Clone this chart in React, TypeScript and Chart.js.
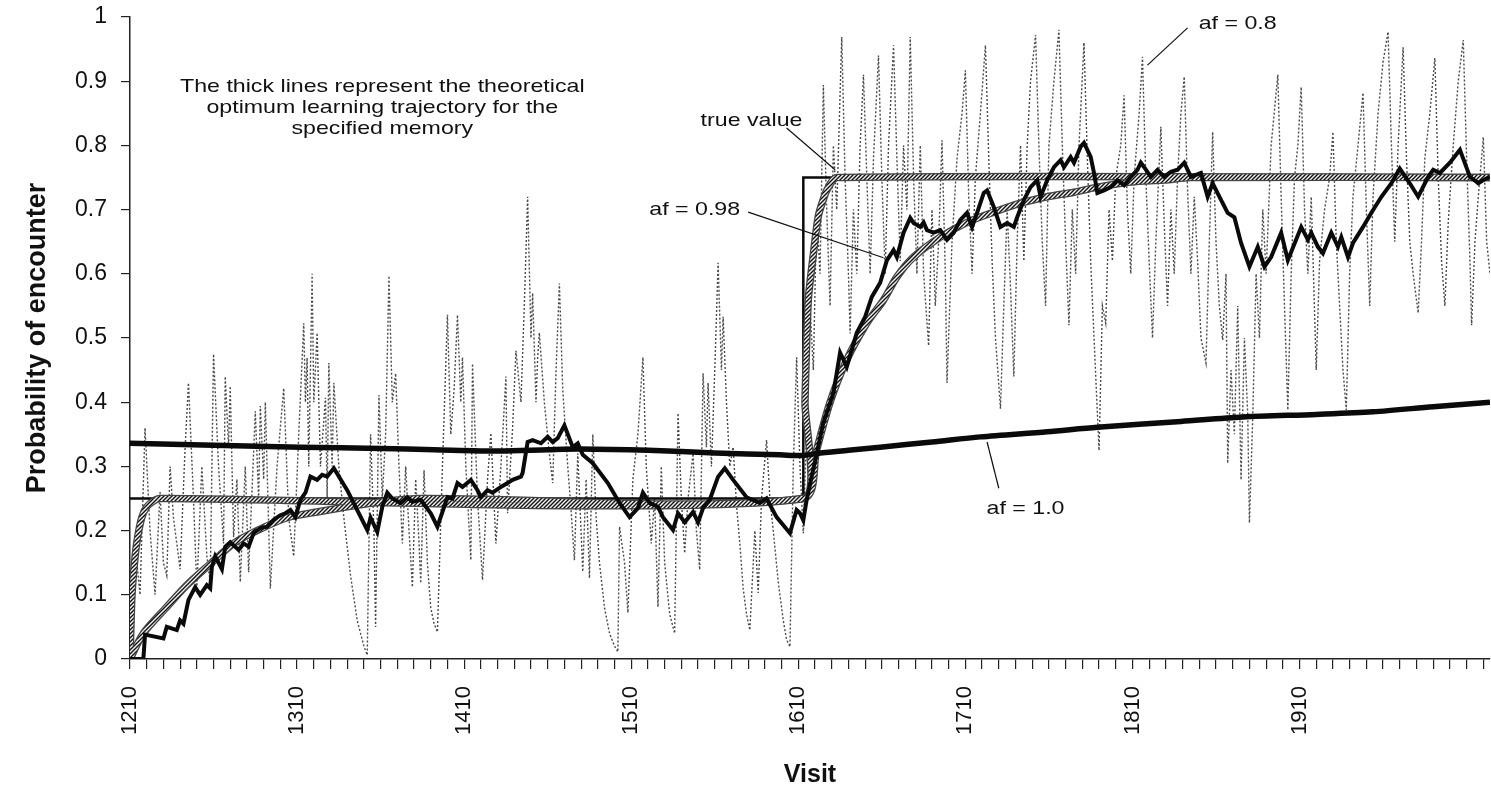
import React, { useEffect, useRef } from 'react';
import { Chart, registerables } from 'chart.js';

Chart.register(...registerables);

// ---------- axis ticks ----------
const xMin = 1210;
const xMax = 2024;
const xMajorTicks = [1210, 1310, 1410, 1510, 1610, 1710, 1810, 1910];
const xMinorStep = 10;
const yTicks = [0, 0.1, 0.2, 0.3, 0.4, 0.5, 0.6, 0.7, 0.8, 0.9, 1];

// ---------- series ----------
const trueVisits = [1210, 1613, 1613, 2024];
const trueValues = [0.25, 0.25, 0.75, 0.75];

// theoretical optimum, short memory (af = 0.8)
const optShortVisits = [1210, 1211, 1212, 1214, 1217, 1220, 1224, 1228, 1613, 1614, 1616, 1619, 1622, 1627, 1633, 2024];
const optShortValues = [0, 0.09, 0.13, 0.18, 0.22, 0.237, 0.246, 0.25, 0.25, 0.4, 0.56, 0.63, 0.69, 0.73, 0.75, 0.75];

// theoretical optimum, long memory (af = 0.98)
const optLongVisits = [1210, 1218, 1232, 1244, 1258, 1272, 1286, 1304, 1322, 1342, 1361, 1384, 1613, 1621, 1629, 1639, 1651, 1661, 1669, 1679, 1695, 1711, 1727, 1743, 1759, 1775, 1789, 1809, 1829, 1845, 2024];
const optLongValues = [0, 0.04, 0.081, 0.115, 0.148, 0.18, 0.2, 0.22, 0.229, 0.238, 0.245, 0.25, 0.25, 0.326, 0.4, 0.466, 0.523, 0.559, 0.595, 0.626, 0.657, 0.68, 0.696, 0.71, 0.72, 0.727, 0.735, 0.743, 0.746, 0.75, 0.75];

// estimate with af = 1.0
const af10Visits = [1210, 1260, 1312, 1360, 1392, 1431, 1460, 1479, 1520, 1560, 1599, 1613, 1621, 1640, 1659, 1690, 1719, 1759, 1789, 1839, 1876, 1920, 1954, 1990, 2024];
const af10Values = [0.336, 0.333, 0.33, 0.328, 0.326, 0.324, 0.326, 0.327, 0.325, 0.321, 0.318, 0.317, 0.32, 0.325, 0.33, 0.338, 0.346, 0.354, 0.361, 0.37, 0.377, 0.381, 0.385, 0.393, 0.4];

// estimate with af = 0.98
const af098Visits = [1210, 1218, 1219, 1230, 1232, 1238, 1240, 1242, 1245, 1249, 1252, 1256, 1258, 1259, 1261, 1265, 1267, 1270, 1275, 1278, 1281, 1284, 1288, 1292, 1296, 1300, 1303, 1306, 1309, 1312, 1315, 1318, 1322, 1325, 1328, 1332, 1340, 1346, 1352, 1354, 1358, 1361, 1364, 1367, 1372, 1376, 1379, 1384, 1390, 1394, 1400, 1403, 1406, 1409, 1414, 1418, 1420, 1424, 1427, 1432, 1436, 1439, 1444, 1445, 1448, 1451, 1456, 1460, 1463, 1466, 1470, 1475, 1478, 1481, 1487, 1496, 1503, 1509, 1514, 1517, 1521, 1526, 1529, 1535, 1538, 1542, 1547, 1550, 1553, 1557, 1562, 1566, 1571, 1579, 1587, 1591, 1597, 1605, 1609, 1611, 1613, 1615, 1621, 1625, 1631, 1635, 1639, 1645, 1650, 1654, 1659, 1663, 1667, 1669, 1673, 1677, 1679, 1683, 1685, 1687, 1691, 1695, 1699, 1703, 1707, 1711, 1714, 1717, 1721, 1723, 1727, 1731, 1735, 1739, 1741, 1745, 1749, 1753, 1755, 1759, 1763, 1767, 1769, 1773, 1775, 1779, 1781, 1785, 1787, 1789, 1793, 1797, 1801, 1805, 1809, 1813, 1815, 1817, 1821, 1825, 1829, 1833, 1837, 1841, 1845, 1851, 1855, 1858, 1863, 1867, 1871, 1875, 1880, 1885, 1889, 1893, 1899, 1903, 1911, 1915, 1917, 1921, 1924, 1929, 1933, 1935, 1939, 1942, 1948, 1953, 1959, 1965, 1970, 1976, 1981, 1987, 1990, 1994, 2000, 2006, 2012, 2017, 2020, 2024];
const af098Values = [0, 0, 0.038, 0.032, 0.05, 0.045, 0.06, 0.055, 0.092, 0.112, 0.1, 0.115, 0.11, 0.143, 0.16, 0.14, 0.175, 0.182, 0.17, 0.18, 0.175, 0.196, 0.204, 0.206, 0.217, 0.224, 0.227, 0.232, 0.221, 0.248, 0.259, 0.284, 0.279, 0.287, 0.284, 0.297, 0.263, 0.232, 0.201, 0.22, 0.198, 0.237, 0.259, 0.25, 0.243, 0.252, 0.245, 0.248, 0.227, 0.206, 0.252, 0.25, 0.274, 0.268, 0.279, 0.263, 0.252, 0.263, 0.259, 0.268, 0.274, 0.279, 0.284, 0.29, 0.338, 0.341, 0.336, 0.346, 0.338, 0.344, 0.364, 0.33, 0.336, 0.318, 0.305, 0.274, 0.243, 0.221, 0.235, 0.259, 0.243, 0.237, 0.221, 0.201, 0.227, 0.213, 0.229, 0.213, 0.235, 0.248, 0.284, 0.297, 0.279, 0.252, 0.243, 0.25, 0.221, 0.196, 0.232, 0.227, 0.216, 0.248, 0.32, 0.368, 0.414, 0.477, 0.455, 0.508, 0.533, 0.564, 0.586, 0.621, 0.637, 0.626, 0.664, 0.687, 0.679, 0.673, 0.68, 0.668, 0.664, 0.668, 0.653, 0.664, 0.684, 0.695, 0.673, 0.695, 0.726, 0.73, 0.704, 0.673, 0.679, 0.673, 0.688, 0.715, 0.735, 0.746, 0.72, 0.746, 0.766, 0.777, 0.766, 0.782, 0.773, 0.798, 0.804, 0.782, 0.757, 0.726, 0.73, 0.735, 0.746, 0.738, 0.751, 0.762, 0.773, 0.766, 0.751, 0.762, 0.751, 0.759, 0.762, 0.773, 0.751, 0.757, 0.72, 0.741, 0.715, 0.695, 0.688, 0.648, 0.611, 0.642, 0.611, 0.626, 0.664, 0.621, 0.673, 0.653, 0.664, 0.642, 0.632, 0.664, 0.642, 0.657, 0.626, 0.648, 0.673, 0.695, 0.72, 0.741, 0.764, 0.741, 0.72, 0.751, 0.762, 0.757, 0.773, 0.793, 0.751, 0.741, 0.746, 0.751];

// estimate with af = 0.8
const af08Visits = [1210, 1213, 1216, 1219, 1222, 1225, 1228, 1230, 1232, 1234, 1236, 1240, 1243, 1245, 1248, 1250, 1253, 1256, 1258, 1260, 1263, 1266, 1267, 1269, 1270, 1272, 1274, 1276, 1279, 1281, 1285, 1287, 1288, 1290, 1291, 1294, 1298, 1302, 1305, 1308, 1311, 1314, 1315, 1316, 1317, 1319, 1320, 1322, 1324, 1327, 1328, 1329, 1331, 1332, 1335, 1338, 1342, 1346, 1350, 1352, 1354, 1356, 1357, 1359, 1361, 1363, 1365, 1367, 1369, 1371, 1373, 1375, 1377, 1379, 1381, 1383, 1384, 1386, 1388, 1390, 1392, 1394, 1397, 1400, 1402, 1404, 1406, 1408, 1409, 1411, 1414, 1415, 1418, 1421, 1424, 1426, 1429, 1432, 1435, 1436, 1439, 1441, 1444, 1446, 1448, 1450, 1451, 1453, 1454, 1455, 1458, 1461, 1463, 1465, 1467, 1469, 1472, 1474, 1476, 1478, 1481, 1483, 1485, 1487, 1489, 1491, 1494, 1497, 1500, 1502, 1503, 1506, 1508, 1511, 1514, 1517, 1519, 1522, 1524, 1526, 1528, 1530, 1533, 1536, 1538, 1540, 1542, 1544, 1547, 1549, 1551, 1553, 1555, 1556, 1558, 1560, 1562, 1564, 1565, 1567, 1569, 1571, 1573, 1575, 1577, 1579, 1581, 1584, 1586, 1588, 1591, 1593, 1595, 1598, 1601, 1603, 1605, 1607, 1609, 1611, 1613, 1615, 1617, 1619, 1621, 1623, 1625, 1627, 1629, 1631, 1633, 1636, 1638, 1640, 1641, 1643, 1645, 1647, 1649, 1651, 1653, 1655, 1658, 1660, 1662, 1664, 1667, 1669, 1671, 1673, 1675, 1677, 1679, 1681, 1683, 1685, 1688, 1690, 1692, 1694, 1696, 1698, 1699, 1702, 1705, 1708, 1710, 1712, 1714, 1716, 1719, 1722, 1724, 1726, 1728, 1731, 1733, 1735, 1737, 1739, 1741, 1743, 1745, 1747, 1749, 1752, 1754, 1756, 1758, 1760, 1763, 1766, 1768, 1770, 1772, 1774, 1776, 1778, 1781, 1783, 1785, 1787, 1790, 1792, 1794, 1796, 1798, 1800, 1803, 1805, 1807, 1809, 1811, 1814, 1816, 1818, 1820, 1822, 1824, 1827, 1829, 1831, 1833, 1835, 1837, 1839, 1841, 1843, 1845, 1847, 1849, 1851, 1854, 1856, 1858, 1860, 1862, 1864, 1866, 1867, 1869, 1871, 1873, 1875, 1877, 1879, 1880, 1882, 1884, 1886, 1888, 1890, 1893, 1897, 1899, 1901, 1903, 1905, 1907, 1909, 1911, 1913, 1915, 1917, 1920, 1922, 1925, 1928, 1930, 1932, 1934, 1936, 1938, 1940, 1942, 1945, 1948, 1950, 1952, 1954, 1957, 1960, 1963, 1965, 1967, 1969, 1972, 1974, 1976, 1978, 1981, 1983, 1985, 1988, 1991, 1993, 1995, 1997, 1999, 2002, 2005, 2008, 2010, 2012, 2013, 2015, 2017, 2020, 2022, 2024];
const af08Values = [0, 0.18, 0.1, 0.36, 0.2, 0.1, 0.26, 0.15, 0.13, 0.3, 0.22, 0.14, 0.33, 0.43, 0.25, 0.11, 0.3, 0.16, 0.12, 0.475, 0.3, 0.18, 0.44, 0.33, 0.425, 0.19, 0.28, 0.12, 0.3, 0.135, 0.386, 0.25, 0.394, 0.28, 0.4, 0.11, 0.3, 0.422, 0.22, 0.16, 0.35, 0.523, 0.4, 0.469, 0.3, 0.6, 0.4, 0.508, 0.3, 0.407, 0.25, 0.461, 0.3, 0.43, 0.3, 0.22, 0.13, 0.06, 0.02, 0.006, 0.35, 0.2, 0.05, 0.411, 0.25, 0.35, 0.597, 0.4, 0.445, 0.3, 0.18, 0.3, 0.2, 0.112, 0.28, 0.18, 0.118, 0.294, 0.15, 0.08, 0.055, 0.042, 0.3, 0.536, 0.35, 0.42, 0.536, 0.4, 0.47, 0.3, 0.154, 0.46, 0.25, 0.123, 0.28, 0.352, 0.18, 0.3, 0.44, 0.227, 0.36, 0.48, 0.4, 0.55, 0.72, 0.5, 0.57, 0.4, 0.47, 0.508, 0.4, 0.32, 0.274, 0.45, 0.585, 0.42, 0.3, 0.232, 0.154, 0.32, 0.136, 0.28, 0.126, 0.35, 0.22, 0.15, 0.08, 0.04, 0.02, 0.011, 0.206, 0.15, 0.072, 0.28, 0.35, 0.47, 0.3, 0.18, 0.25, 0.081, 0.3, 0.15, 0.07, 0.04, 0.383, 0.25, 0.165, 0.25, 0.32, 0.2, 0.139, 0.445, 0.33, 0.43, 0.3, 0.45, 0.617, 0.45, 0.533, 0.4, 0.3, 0.33, 0.24, 0.18, 0.11, 0.07, 0.045, 0.2, 0.103, 0.25, 0.341, 0.25, 0.2, 0.12, 0.06, 0.03, 0.019, 0.3, 0.47, 0.3, 0.196, 0.36, 0.55, 0.45, 0.7, 0.6, 0.894, 0.7, 0.55, 0.8, 0.7, 0.969, 0.75, 0.6, 0.507, 0.7, 0.6, 0.8, 0.91, 0.75, 0.6, 0.78, 0.94, 0.75, 0.6, 0.8, 0.956, 0.78, 0.62, 0.8, 0.7, 0.969, 0.75, 0.6, 0.8, 0.6, 0.488, 0.7, 0.55, 0.65, 0.808, 0.6, 0.43, 0.65, 0.78, 0.85, 0.917, 0.72, 0.6, 0.75, 0.85, 0.956, 0.78, 0.62, 0.5, 0.39, 0.55, 0.7, 0.58, 0.44, 0.65, 0.8, 0.62, 0.8, 0.9, 0.972, 0.8, 0.65, 0.55, 0.8, 0.9, 0.98, 0.8, 0.65, 0.52, 0.7, 0.6, 0.8, 0.96, 0.78, 0.62, 0.5, 0.325, 0.55, 0.523, 0.7, 0.62, 0.75, 0.8, 0.878, 0.7, 0.6, 0.75, 0.85, 0.938, 0.75, 0.62, 0.5, 0.65, 0.829, 0.68, 0.55, 0.7, 0.6, 0.75, 0.85, 0.907, 0.73, 0.6, 0.72, 0.62, 0.5, 0.461, 0.65, 0.821, 0.65, 0.55, 0.497, 0.6, 0.305, 0.45, 0.35, 0.55, 0.279, 0.5, 0.38, 0.212, 0.377, 0.6, 0.5, 0.7, 0.6, 0.8, 0.91, 0.72, 0.55, 0.388, 0.6, 0.75, 0.8, 0.891, 0.7, 0.6, 0.72, 0.45, 0.62, 0.7, 0.75, 0.821, 0.65, 0.55, 0.45, 0.388, 0.6, 0.72, 0.8, 0.882, 0.7, 0.55, 0.72, 0.85, 0.93, 0.977, 0.8, 0.65, 0.8, 0.953, 0.78, 0.65, 0.6, 0.539, 0.65, 0.78, 0.85, 0.936, 0.75, 0.62, 0.55, 0.68, 0.8, 0.9, 0.964, 0.78, 0.62, 0.52, 0.65, 0.72, 0.813, 0.65, 0.6];

// ---------- annotations (data coordinates) ----------
const noteTexts = ['The thick lines represent the theoretical', 'optimum learning trajectory for the', 'specified memory', 'true value', 'af = 0.98', 'af = 0.8', 'af = 1.0'];
const noteVisits = [1361, 1361, 1361, 1582, 1548, 1873, 1746];
const noteValues = [0.891, 0.858, 0.826, 0.838, 0.699, 0.989, 0.234];
const leaderFrom = [[1603, 0.827], [1580, 0.696], [1843, 0.983], [1730, 0.266]];
const leaderTo = [[1632, 0.762], [1661, 0.625], [1819, 0.925], [1723, 0.338]];

const FONT = '"Liberation Sans", Arial, Helvetica, sans-serif';

const zip = (xs: number[], ys: number[]) => xs.map((x, i) => ({ x, y: ys[i] }));

function makeHatch(): CanvasPattern | string {
  const c = document.createElement('canvas');
  c.width = 4;
  c.height = 4;
  const g = c.getContext('2d');
  if (!g) return '#777';
  g.fillStyle = '#f2f2f2';
  g.fillRect(0, 0, 4, 4);
  g.strokeStyle = '#111';
  g.lineWidth = 1.4;
  g.beginPath();
  g.moveTo(-1, 5); g.lineTo(5, -1);
  g.moveTo(-1, 1); g.lineTo(1, -1);
  g.moveTo(3, 5); g.lineTo(5, 3);
  g.stroke();
  return g.createPattern(c, 'repeat') || '#777';
}

const notesPlugin = {
  id: 'notes',
  afterDatasetsDraw(chart: any) {
    const { ctx } = chart;
    const xs = chart.scales.x;
    const ys = chart.scales.y;
    ctx.save();
    ctx.strokeStyle = '#111';
    ctx.lineWidth = 1.2;
    leaderFrom.forEach((f, i) => {
      const t = leaderTo[i];
      ctx.beginPath();
      ctx.moveTo(xs.getPixelForValue(f[0]), ys.getPixelForValue(f[1]));
      ctx.lineTo(xs.getPixelForValue(t[0]), ys.getPixelForValue(t[1]));
      ctx.stroke();
    });
    ctx.fillStyle = '#111';
    ctx.font = `19px ${FONT}`;
    ctx.textAlign = 'center';
    ctx.textBaseline = 'middle';
    noteTexts.forEach((txt, i) => {
      const px = xs.getPixelForValue(noteVisits[i]);
      const py = ys.getPixelForValue(noteValues[i]);
      ctx.save();
      ctx.translate(px, py);
      ctx.scale(1.22, 1);
      ctx.fillText(txt, 0, 0);
      ctx.restore();
    });
    ctx.restore();
  },
};

export default function App() {
  const ref = useRef<HTMLCanvasElement | null>(null);

  useEffect(() => {
    if (!ref.current) return;
    const hatch = makeHatch();
    const minorTicks: number[] = [];
    for (let v = xMin; v <= xMax; v += xMinorStep) minorTicks.push(v);

    const chart = new Chart(ref.current, {
      type: 'line',
      data: {
        datasets: [
          { label: 'af = 0.98', data: zip(af098Visits, af098Values), borderColor: '#0a0a0a', borderWidth: 4, pointRadius: 0, tension: 0, order: 1 },
          { label: 'af = 1.0', data: zip(af10Visits, af10Values), borderColor: '#0a0a0a', borderWidth: 5.5, pointRadius: 0, tension: 0.3, order: 2 },
          { label: 'optimum af = 0.98', data: zip(optLongVisits, optLongValues), borderColor: hatch as any, borderWidth: 5, pointRadius: 0, tension: 0.3, order: 3 },
          { label: 'optimum af = 0.8', data: zip(optShortVisits, optShortValues), borderColor: hatch as any, borderWidth: 5, pointRadius: 0, tension: 0.2, order: 3 },
          { label: 'optimum af = 0.98 edge', data: zip(optLongVisits, optLongValues), borderColor: '#444', borderWidth: 7.5, pointRadius: 0, tension: 0.3, order: 4 },
          { label: 'optimum af = 0.8 edge', data: zip(optShortVisits, optShortValues), borderColor: '#444', borderWidth: 7.5, pointRadius: 0, tension: 0.2, order: 4 },
          { label: 'true value', data: zip(trueVisits, trueValues), borderColor: '#0a0a0a', borderWidth: 2.5, pointRadius: 0, tension: 0, order: 5 },
          { label: 'af = 0.8', data: zip(af08Visits, af08Values), borderColor: '#4a4a4a', borderWidth: 1.4, borderDash: [2, 2], pointRadius: 0, tension: 0, order: 6 },
        ],
      },
      options: {
        animation: false,
        responsive: false,
        maintainAspectRatio: false,
        layout: { padding: { top: 17, right: 1, bottom: 0, left: 0 } },
        plugins: {
          legend: { display: false },
          tooltip: { enabled: false },
        },
        scales: {
          x: {
            type: 'linear',
            min: xMin,
            max: xMax,
            afterBuildTicks: (s: any) => {
              s.ticks = minorTicks.map((v) => ({ value: v }));
            },
            afterFit: (s: any) => {
              s.height = 132;
              s.paddingLeft = 0;
              s.paddingRight = 0;
            },
            grid: { drawOnChartArea: false, drawTicks: true, tickLength: 10, color: '#222', lineWidth: 1.2 },
            border: { display: true, color: '#222', width: 1.5 },
            ticks: {
              autoSkip: false,
              maxRotation: 90,
              minRotation: 90,
              padding: 17,
              color: '#111',
              font: { family: FONT, size: 22 },
              callback: (v: any) => (xMajorTicks.includes(Number(v)) ? String(v) : ''),
            },
            title: {
              display: true,
              text: 'Visit',
              color: '#111',
              font: { family: FONT, size: 25, weight: 'bold' },
              padding: { top: 0, bottom: 1 },
            },
          },
          y: {
            type: 'linear',
            min: 0,
            max: 1,
            afterBuildTicks: (s: any) => {
              s.ticks = yTicks.map((v) => ({ value: v }));
            },
            afterFit: (s: any) => {
              s.width = 130;
              s.paddingTop = 0;
              s.paddingBottom = 0;
            },
            grid: { drawOnChartArea: false, drawTicks: true, tickLength: 9, color: '#222', lineWidth: 1.2 },
            border: { display: true, color: '#222', width: 1.5 },
            ticks: {
              padding: 14,
              color: '#111',
              font: { family: FONT, size: 23 },
              callback: (v: any) => String(Math.round(Number(v) * 10) / 10),
            },
            title: {
              display: true,
              text: 'Probability of encounter',
              color: '#111',
              font: { family: FONT, size: 27, weight: 'bold' },
              padding: { top: 21, bottom: 0 },
            },
          },
        },
      },
      plugins: [notesPlugin],
    } as any);

    return () => chart.destroy();
  }, []);

  return (
    <div style={{ position: 'absolute', left: 0, top: 0, width: 1491, height: 791, background: '#fff' }}>
      <canvas ref={ref} width={1491} height={791} style={{ width: 1491, height: 791, display: 'block' }} />
    </div>
  );
}
